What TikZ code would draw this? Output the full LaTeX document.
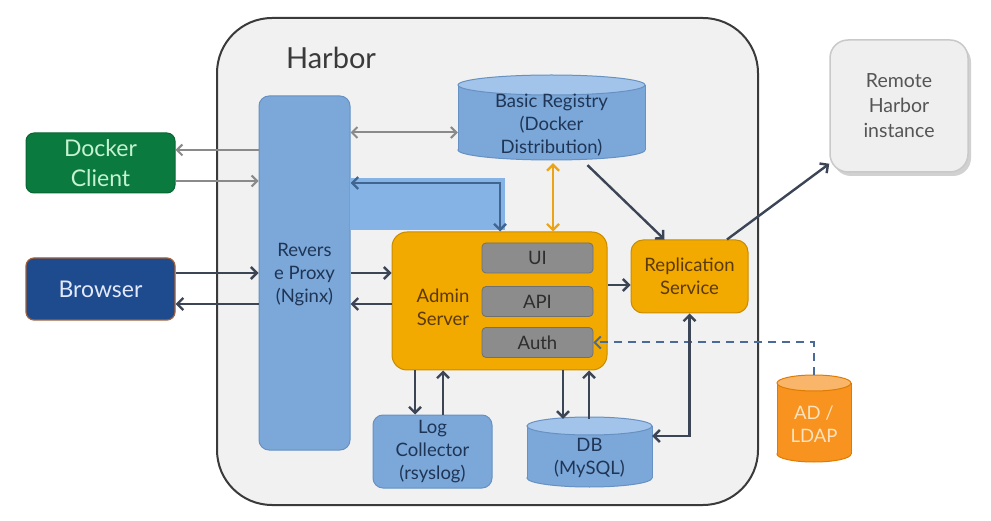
\documentclass[tikz,border=0pt]{standalone}
\usepackage{fontspec}
\setmainfont{Lato}
\usetikzlibrary{arrows.meta,calc}
\definecolor{harborfill}{HTML}{F1F1F1}
\definecolor{harborline}{HTML}{3A3A3A}
\definecolor{bluefill}{HTML}{7BA8D9}
\definecolor{blueline}{HTML}{6691C2}
\definecolor{bluetop}{HTML}{A3C4EA}
\definecolor{bandfill}{HTML}{86B3E6}
\definecolor{bluetext}{HTML}{1F3556}
\definecolor{orfill}{HTML}{F2A900}
\definecolor{orline}{HTML}{C98C00}
\definecolor{ortext}{HTML}{5C3A06}
\definecolor{grfill}{HTML}{8C8C8C}
\definecolor{grline}{HTML}{707070}
\definecolor{grtext}{HTML}{2E2E2E}
\definecolor{arrc}{HTML}{3B4556}
\definecolor{garrc}{HTML}{8A8A8A}
\definecolor{bandarr}{HTML}{3F6590}
\definecolor{orarr}{HTML}{EBA317}
\definecolor{dockfill}{HTML}{0B7A3E}
\definecolor{dockline}{HTML}{096634}
\definecolor{docktext}{HTML}{C4F2D2}
\definecolor{brfill}{HTML}{1E4A8E}
\definecolor{brline}{HTML}{A0603A}
\definecolor{brtext}{HTML}{E2E9FA}
\definecolor{remfill}{HTML}{EFEFEF}
\definecolor{remline}{HTML}{C9C9C9}
\definecolor{remtext}{HTML}{555555}
\definecolor{ldfill}{HTML}{F7931E}
\definecolor{ldtop}{HTML}{F9B66B}
\definecolor{ldline}{HTML}{E07B00}
\definecolor{ldtext}{HTML}{FDE2C0}
\definecolor{dashc}{HTML}{4A6A9A}
\tikzset{
  mytip/.tip={Straight Barb[length=6pt,width=12pt]},
  mygtip/.tip={Straight Barb[length=5.5pt,width=11pt]},
}
\newcommand\mycyl[8]{%
  \draw[fill=#6,draw=#8,line width=1pt] ({(#1+#3)/2},{#4-#5}) ellipse [x radius={(#3-#1)/2*1pt}, y radius=#5pt];
  \fill[#6] (#1,{#2+#5}) rectangle (#3,{#4-#5});
  \draw[#8,line width=1pt] (#1,{#2+#5}) -- (#1,{#4-#5}) (#3,{#2+#5}) -- (#3,{#4-#5});
  \draw[fill=#7,draw=#8,line width=1pt] ({(#1+#3)/2},{#2+#5}) ellipse [x radius={(#3-#1)/2*1pt}, y radius=#5pt];
}
\begin{document}
\begin{tikzpicture}[x=1pt,y=-1pt,
  txt/.style={font=\fontsize{18.5pt}{23pt}\selectfont, align=center, inner sep=0pt},
  bluebox/.style={txt, fill=bluefill, draw=blueline, line width=1pt, rounded corners=10pt, text=bluetext},
  orbox/.style={txt, fill=orfill, draw=orline, line width=1pt, rounded corners=12pt, text=ortext},
  grbox/.style={txt, fill=grfill, draw=grline, line width=0.8pt, rounded corners=4pt, text=grtext, minimum width=111pt, minimum height=30pt},
  anch/.style={inner sep=0pt, draw=none},
  darr/.style={draw=arrc, line width=2.4pt, -mytip},
  garr/.style={draw=garrc, line width=2pt, -mygtip},
]
\useasboundingbox (0,0) rectangle (991,521);
\fill[white] (0,0) rectangle (991,521);

% Harbor frame
\node[anch, fill=harborfill, draw=harborline, line width=2pt, rounded corners=55pt,
      minimum width=541pt, minimum height=487pt] (harbor) at (487.5,261.5) {};
\node[inner sep=0pt, font=\fontsize{29pt}{32pt}\selectfont, text=harborline] (harborlbl) at (331,58) {Harbor};

% Remote instance
\fill[black!18, rounded corners=18pt] (833,44) rectangle (971,176);
\node[txt, fill=remfill, draw=remline, line width=1.5pt, rounded corners=18pt, text=remtext,
      font=\fontsize{19.5pt}{25pt}\selectfont, minimum width=138pt, minimum height=132pt] (remote) at (899,106) {Remote\\Harbor\\instance};

% External clients
\node[txt, fill=dockfill, draw=dockline, line width=1pt, rounded corners=8pt, text=docktext,
      font=\fontsize{23pt}{30pt}\selectfont, minimum width=149pt, minimum height=60pt] (docker) at (100.5,163) {Docker\\Client};
\node[txt, fill=brfill, draw=brline, line width=1.2pt, rounded corners=8pt, text=brtext,
      font=\fontsize{23pt}{30pt}\selectfont, minimum width=149pt, minimum height=62pt] (browser) at (100.5,289) {Browser};

% Reverse proxy
\node[bluebox, minimum width=91pt, minimum height=354pt] (proxy) at (304.5,273) {};
\node[txt, text=bluetext] (proxylbl) at (304.5,275) {Revers\\e Proxy\\(Nginx)};

% band
\fill[bandfill] (350,178) rectangle (505,230);

% Registry cylinder
\mycyl{458}{75}{645}{160}{10}{bluefill}{bluetop}{blueline}
\node[anch, minimum width=187pt, minimum height=85pt] (reg) at (551.5,117.5) {};
\node[txt, text=bluetext] (reglbl) at (551.5,125) {Basic Registry\\(Docker\\Distribution)};

% Admin server
\node[orbox, rounded corners=15pt, minimum width=215pt, minimum height=138pt] (admin) at (499.5,301) {};
\node[txt, text=ortext] (adminlbl) at (443,307) {Admin\\Server};
\node[grbox] (ui) at (537.5,258) {UI};
\node[grbox] (api) at (537.5,301.5) {API};
\node[grbox] (auth) at (537.5,342.5) {Auth};

% Replication service
\node[orbox, minimum width=117pt, minimum height=73pt] (repl) at (689.5,276.5) {Replication\\Service};

% Log collector
\node[bluebox, minimum width=119pt, minimum height=73pt] (log) at (432.5,451.5) {Log\\Collector\\(rsyslog)};

% DB cylinder
\mycyl{527}{417}{652}{487}{9}{bluefill}{bluetop}{blueline}
\node[anch, minimum width=125pt, minimum height=70pt] (db) at (589.5,452) {};
\node[txt, text=bluetext] (dblbl) at (589.5,458) {DB\\(MySQL)};

% LDAP cylinder
\mycyl{777}{375}{851}{462}{8}{ldfill}{ldtop}{ldline}
\node[anch, minimum width=74pt, minimum height=87pt] (ldap) at (814,418.5) {};
\node[txt, text=ldtext] (ldaplbl) at (814,424) {AD /\\LDAP};

% ---- connectors ----
\coordinate (d1) at ([yshift=13pt]docker.east);
\coordinate (d2) at ([yshift=-18pt]docker.east);
\draw[garr] (d1 -| proxy.west) -- (d1);
\draw[garr] (d2) -- (d2 -| proxy.west);

\coordinate (b1) at ([yshift=16pt]browser.east);
\coordinate (b2) at ([yshift=-15pt]browser.east);
\draw[darr] (b1) -- (b1 -| proxy.west);
\draw[darr] (b2 -| proxy.west) -- (b2);
\draw[darr] (b1 -| proxy.east) -- (b1 -| admin.west);
\draw[darr] (b2 -| admin.west) -- (b2 -| proxy.east);

\coordinate (r1) at ([yshift=-15pt]reg.west);
\draw[garr, mygtip-mygtip] (r1 -| proxy.east) -- (r1);

\coordinate (bc) at (500,183);
\draw[draw=bandarr, line width=2.4pt, mytip-mytip]
  (bc -| proxy.east) -- (bc) -- (bc |- admin.north);

\coordinate (o1) at ([xshift=1.5pt,yshift=-3pt]reg.south);
\draw[draw=orarr, line width=2.2pt, mytip-mytip]
  (o1) -- (o1 |- admin.north);

\draw[darr] ([xshift=36pt,yshift=-5pt]reg.south) -- ([xshift=-25pt]repl.north);
\draw[darr] ([xshift=37.5pt]repl.north) -- ([yshift=9pt]remote.south west);

\coordinate (a1) at ([yshift=16pt]admin.east);
\draw[darr] (a1) -- (a1 -| repl.west);

\draw[draw=dashc, line width=2pt, dash pattern=on 8pt off 6pt, -mytip]
  (ldap.north) |- (auth.east);

\coordinate (de) at ([yshift=16pt]db.east);
\draw[darr, mytip-mytip] (de) -| (repl.south);

\coordinate (l1) at ([xshift=-17.5pt]log.north);
\coordinate (l2) at ([xshift=10.5pt]log.north);
\draw[darr] (l1 |- admin.south) -- (l1);
\draw[darr] (l2) -- (l2 |- admin.south);

\coordinate (m1) at ([xshift=-26.5pt,yshift=-2pt]db.north);
\coordinate (m2) at ([xshift=-0.5pt,yshift=-2pt]db.north);
\draw[darr] (m1 |- admin.south) -- (m1);
\draw[darr] (m2) -- (m2 |- admin.south);
\end{tikzpicture}
\end{document}
